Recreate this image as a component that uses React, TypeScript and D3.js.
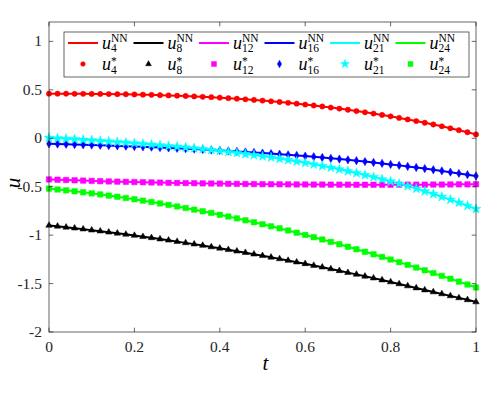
import React, { useEffect, useRef } from 'react';
import * as d3 from 'd3';

// time grid (51 samples)
const tValues = [
  0, 0.02, 0.04, 0.06, 0.08, 0.1, 0.12, 0.14, 0.16, 0.18, 0.2, 0.22, 0.24, 0.26, 0.28, 0.3, 0.32,
  0.34, 0.36, 0.38, 0.4, 0.42, 0.44, 0.46, 0.48, 0.5, 0.52, 0.54, 0.56, 0.58, 0.6, 0.62, 0.64, 0.66,
  0.68, 0.7, 0.72, 0.74, 0.76, 0.78, 0.8, 0.82, 0.84, 0.86, 0.88, 0.9, 0.92, 0.94, 0.96, 0.98, 1,
];

const u4 = [
  0.46, 0.46, 0.46, 0.459, 0.459, 0.458, 0.457, 0.456, 0.455, 0.454, 0.452, 0.45, 0.448, 0.445, 0.442,
  0.439, 0.436, 0.432, 0.428, 0.424, 0.419, 0.414, 0.408, 0.402, 0.396, 0.389, 0.381, 0.374, 0.366,
  0.357, 0.348, 0.338, 0.328, 0.317, 0.306, 0.294, 0.281, 0.268, 0.255, 0.241, 0.226, 0.21, 0.194,
  0.177, 0.16, 0.142, 0.123, 0.103, 0.083, 0.062, 0.04,
];
const u8 = [
  -0.9, -0.909, -0.919, -0.928, -0.938, -0.949, -0.959, -0.97, -0.981, -0.992, -1.004, -1.016, -1.028,
  -1.041, -1.053, -1.067, -1.08, -1.093, -1.107, -1.122, -1.136, -1.151, -1.166, -1.181, -1.197, -1.213,
  -1.229, -1.245, -1.262, -1.279, -1.296, -1.314, -1.331, -1.349, -1.368, -1.387, -1.405, -1.425, -1.444,
  -1.464, -1.484, -1.504, -1.525, -1.546, -1.567, -1.587, -1.607, -1.627, -1.648, -1.668, -1.69,
];
const u12 = [
  -0.425, -0.428, -0.431, -0.434, -0.437, -0.44, -0.443, -0.446, -0.448, -0.45, -0.452, -0.454, -0.456,
  -0.458, -0.46, -0.461, -0.463, -0.464, -0.466, -0.467, -0.468, -0.47, -0.471, -0.472, -0.473, -0.474,
  -0.475, -0.475, -0.476, -0.477, -0.477, -0.478, -0.478, -0.479, -0.479, -0.479, -0.48, -0.48, -0.48,
  -0.48, -0.48, -0.479, -0.479, -0.479, -0.479, -0.478, -0.478, -0.477, -0.476, -0.476, -0.475,
];
const u16 = [
  -0.058, -0.06, -0.062, -0.065, -0.067, -0.07, -0.073, -0.076, -0.079, -0.082, -0.085, -0.089, -0.092,
  -0.096, -0.1, -0.104, -0.108, -0.112, -0.116, -0.121, -0.126, -0.131, -0.136, -0.142, -0.147, -0.153,
  -0.158, -0.164, -0.171, -0.177, -0.184, -0.191, -0.199, -0.207, -0.215, -0.223, -0.232, -0.241, -0.25,
  -0.26, -0.27, -0.28, -0.291, -0.302, -0.313, -0.325, -0.337, -0.35, -0.363, -0.376, -0.39,
];
const u21 = [
  0.005, 0, -0.005, -0.01, -0.015, -0.021, -0.027, -0.033, -0.039, -0.045, -0.052, -0.058, -0.065, -0.072,
  -0.08, -0.087, -0.095, -0.103, -0.112, -0.121, -0.131, -0.141, -0.151, -0.162, -0.173, -0.185, -0.197,
  -0.211, -0.224, -0.239, -0.254, -0.269, -0.286, -0.303, -0.321, -0.34, -0.359, -0.38, -0.401, -0.423,
  -0.446, -0.47, -0.494, -0.52, -0.547, -0.575, -0.604, -0.634, -0.665, -0.697, -0.73,
];
const u24 = [
  -0.52, -0.529, -0.538, -0.548, -0.558, -0.569, -0.58, -0.592, -0.604, -0.617, -0.63, -0.644, -0.658,
  -0.673, -0.688, -0.704, -0.72, -0.737, -0.754, -0.771, -0.79, -0.808, -0.827, -0.847, -0.867, -0.888,
  -0.909, -0.93, -0.952, -0.975, -0.998, -1.021, -1.045, -1.07, -1.094, -1.12, -1.146, -1.172, -1.198,
  -1.225, -1.252, -1.279, -1.307, -1.335, -1.363, -1.392, -1.421, -1.45, -1.48, -1.51, -1.54,
];

const seriesIds = ['4', '8', '12', '16', '21', '24'];
const seriesColors = ['#ff0000', '#000000', '#ff00ff', '#0000ff', '#00ffff', '#00ff00'];
const xTicks = [0, 0.2, 0.4, 0.6, 0.8, 1];
const xTickLabels = ['0', '0.2', '0.4', '0.6', '0.8', '1'];
const yTicks = [-2, -1.5, -1, -0.5, 0, 0.5, 1];
const yTickLabels = ['-2', '-1.5', '-1', '-0.5', '0', '0.5', '1'];

const SERIF = 'Liberation Serif';
const AXIS = '#262626';

const App = () => {
  const ref = useRef<SVGSVGElement | null>(null);

  useEffect(() => {
    const width = 498;
    const height = 393;
    const svg = d3.select(ref.current);
    svg.selectAll('*').remove();
    svg.attr('width', width).attr('height', height);

    const left = 49, right = 476, top = 22, bottom = 332;
    const x = d3.scaleLinear().domain([0, 1]).range([left, right]);
    const y = d3.scaleLinear().domain([-2, 1.2]).range([bottom, top]);

    const allSeries = [u4, u8, u12, u16, u21, u24];
    const symbols = [d3.symbolCircle, d3.symbolTriangle, d3.symbolSquare, d3.symbolDiamond, d3.symbolStar, d3.symbolSquare];
    const symSizes = [22, 18, 30, 20, 30, 30];

    // NN solution lines
    const line = d3.line<number>().x((_, i) => x(tValues[i])).y(d => y(d));
    allSeries.forEach((s, k) => {
      svg.append('path')
        .datum(s)
        .attr('fill', 'none')
        .attr('stroke', seriesColors[k])
        .attr('stroke-width', 2)
        .attr('d', line);
    });

    // reference solution markers
    allSeries.forEach((s, k) => {
      const sym = d3.symbol().type(symbols[k]).size(symSizes[k]);
      svg.append('g')
        .selectAll('path')
        .data(s)
        .enter()
        .append('path')
        .attr('d', sym)
        .attr('transform', (d, i) => `translate(${x(tValues[i])},${y(d)})`)
        .attr('fill', seriesColors[k])
        .attr('stroke', seriesColors[k])
        .attr('stroke-width', 0.5);
    });

    // box + inward ticks on all sides
    const ax = svg.append('g').attr('stroke', AXIS).attr('stroke-width', 0.7).attr('fill', 'none');
    ax.append('rect').attr('x', left).attr('y', top).attr('width', right - left).attr('height', bottom - top);
    const tl = 4.3;
    xTicks.forEach(v => {
      ax.append('line').attr('x1', x(v)).attr('x2', x(v)).attr('y1', bottom).attr('y2', bottom - tl);
      ax.append('line').attr('x1', x(v)).attr('x2', x(v)).attr('y1', top).attr('y2', top + tl);
    });
    yTicks.forEach(v => {
      ax.append('line').attr('x1', left).attr('x2', left + tl).attr('y1', y(v)).attr('y2', y(v));
      ax.append('line').attr('x1', right).attr('x2', right - tl).attr('y1', y(v)).attr('y2', y(v));
    });

    svg.append('g')
      .selectAll('text')
      .data(xTicks)
      .enter()
      .append('text')
      .attr('x', d => x(d))
      .attr('y', bottom + 20)
      .attr('text-anchor', 'middle')
      .attr('font-family', SERIF)
      .attr('font-size', 15.5)
      .attr('fill', AXIS)
      .text((_, i) => xTickLabels[i]);

    svg.append('g')
      .selectAll('text')
      .data(yTicks)
      .enter()
      .append('text')
      .attr('x', left - 7)
      .attr('y', d => y(d) + 5)
      .attr('text-anchor', 'end')
      .attr('font-family', SERIF)
      .attr('font-size', 15.5)
      .attr('fill', AXIS)
      .text((_, i) => yTickLabels[i]);

    // axis labels
    svg.append('text')
      .attr('x', (left + right) / 2 + 3)
      .attr('y', bottom + 38)
      .attr('text-anchor', 'middle')
      .attr('font-family', SERIF)
      .attr('font-style', 'italic')
      .attr('font-size', 21)
      .text('t');
    svg.append('text')
      .attr('transform', `translate(20,${(top + bottom) / 2 + 6}) rotate(-90)`)
      .attr('text-anchor', 'middle')
      .attr('font-family', SERIF)
      .attr('font-style', 'italic')
      .attr('font-size', 21)
      .text('u');

    // legend
    const lg = svg.append('g');
    lg.append('rect')
      .attr('x', 64).attr('y', 32).attr('width', 405).attr('height', 45)
      .attr('fill', '#ffffff').attr('stroke', AXIS).attr('stroke-width', 0.7);

    const colX = (i: number) => 68 + i * 65.5;
    const addLabel = (x0: number, base: number, id: string, sup: string, supDy: number, subDy: number) => {
      const txt = lg.append('text')
        .attr('x', x0).attr('y', base)
        .attr('font-family', SERIF);
      txt.append('tspan').attr('font-style', 'italic').attr('font-size', 18).text('u');
      const sub = txt.append('tspan').attr('font-size', 11.5).attr('dy', subDy).text(id);
      const w = (sub.node() as SVGTSpanElement).getComputedTextLength();
      txt.append('tspan').attr('font-size', 11.5).attr('dx', -w).attr('dy', supDy - subDy).text(sup);
    };

    seriesIds.forEach((id, i) => {
      const x0 = colX(i);
      lg.append('line')
        .attr('x1', x0).attr('x2', x0 + 30).attr('y1', 43).attr('y2', 43)
        .attr('stroke', seriesColors[i]).attr('stroke-width', 2);
      addLabel(x0 + 34, 48.5, id, 'NN', -7, 3.5);

      const sym = d3.symbol().type(symbols[i]).size(symSizes[i] * 0.8);
      lg.append('path')
        .attr('d', sym)
        .attr('transform', `translate(${x0 + 15},64)`)
        .attr('fill', seriesColors[i])
        .attr('stroke', seriesColors[i])
        .attr('stroke-width', 0.5);
      addLabel(x0 + 34, 69.5, id, '*', -4.5, 4);
    });
  }, []);

  return (
    <div>
      <style>{`body{margin:0}`}</style>
      <svg ref={ref} style={{ display: 'block', background: '#fff' }} />
    </div>
  );
};

export default App;
